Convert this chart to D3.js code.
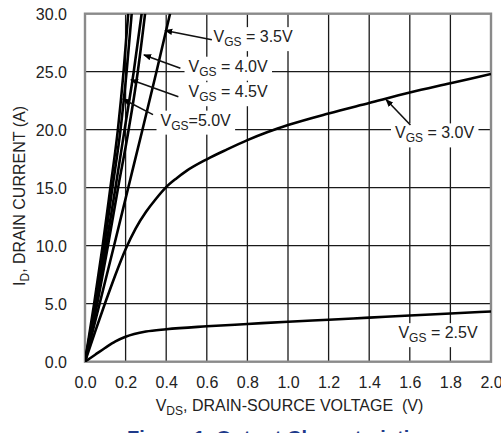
<!DOCTYPE html>
<html>
<head>
<meta charset="utf-8">
<script src="https://cdn.jsdelivr.net/npm/d3@7"></script>
<style>
  html, body { margin: 0; padding: 0; background: #fff; overflow: hidden; }
  svg { display: block; font-family: "Liberation Sans", Arial, sans-serif; }
</style>
</head>
<body>
<svg id="chart" width="501" height="433"></svg>
<script>
// ---- data ----
const xTicks = [0.0, 0.2, 0.4, 0.6, 0.8, 1.0, 1.2, 1.4, 1.6, 1.8, 2.0];
const yTicks = [0, 5, 10, 15, 20, 25, 30];

const vgs10 = [[0,0],[0.045,5],[0.087,10],[0.125,15],[0.162,20],[0.19,25],[0.213,30]];
const vgs50 = [[0,0],[0.05,5],[0.095,10],[0.135,15],[0.175,20],[0.205,25],[0.23,30]];
const vgs45 = [[0,0],[0.055,5],[0.104,10],[0.15,15],[0.195,20],[0.24,25],[0.279,30]];
const vgs40 = [[0,0],[0.06,5],[0.113,10],[0.163,15],[0.215,20],[0.26,25],[0.296,30]];
const vgs35 = [[0,0],[0.072,5],[0.143,10],[0.213,15],[0.283,20],[0.352,25],[0.419,30]];
const vgs30 = [[0,0],[0.05,2.6],[0.1,5.1],[0.15,7.5],[0.2,9.7],[0.25,11.5],[0.3,12.9],[0.35,14.05],[0.4,15.05],[0.45,15.8],[0.5,16.45],[0.6,17.45],[0.7,18.3],[0.8,19.1],[0.9,19.8],[1.0,20.4],[1.2,21.4],[1.4,22.3],[1.6,23.2],[1.8,24.0],[2.0,24.8]];
const vgs25 = [[0,0],[0.05,0.6],[0.1,1.2],[0.15,1.75],[0.2,2.15],[0.3,2.6],[0.4,2.8],[0.6,3.05],[0.8,3.25],[1.0,3.45],[1.2,3.62],[1.4,3.8],[1.6,3.98],[1.8,4.15],[2.0,4.33]];

const seriesList = [vgs10, vgs50, vgs45, vgs40, vgs35, vgs30, vgs25];

// label text, label anchor (data coords of text start/baseline), arrow start (data), arrow tip (data)
const labelNames = ["3.5V", "4.0V", "4.5V", "5.0V", "3.0V", "2.5V"];
const labelSep   = [" = ", " = ", " = ", "=", " = ", " = "];
const labelPos   = [[0.633,27.55],[0.510,25.0],[0.510,22.8],[0.372,20.35],[1.527,19.25],[1.544,2.03]];
const arrowFrom  = [[0.625,27.75],[0.470,25.3],[0.460,22.85],[0.335,21.3],[1.603,20.4],null];
const arrowTo    = [[0.394,28.55],[0.290,26.45],[0.226,24.3],[0.186,22.65],[1.483,22.6],null];

// ---- layout ----
const svg = d3.select("#chart");
const x = d3.scaleLinear().domain([0, 2]).range([85, 491]);
const y = d3.scaleLinear().domain([0, 30]).range([361.7, 13.7]);

const textColor = "#222";

// grid
const grid = svg.append("g");
grid.selectAll("line.v").data(xTicks.slice(1, -1)).join("line")
  .attr("x1", d => x(d)).attr("x2", d => x(d))
  .attr("y1", y(30)).attr("y2", y(0))
  .attr("stroke", "#1a1a1a").attr("stroke-width", 1.3);
grid.selectAll("line.h").data(yTicks.slice(1, -1)).join("line")
  .attr("x1", x(0)).attr("x2", x(2))
  .attr("y1", d => y(d)).attr("y2", d => y(d))
  .attr("stroke", "#1a1a1a").attr("stroke-width", 1.3);

// axes (labels only)
const fmt = d3.format(".1f");
const xAxis = svg.append("g").attr("transform", `translate(0,${y(0)})`)
  .call(d3.axisBottom(x).tickValues(xTicks).tickFormat(fmt).tickSize(0).tickPadding(15));
const yAxis = svg.append("g").attr("transform", `translate(${x(0)},0)`)
  .call(d3.axisLeft(y).tickValues(yTicks).tickFormat(fmt).tickSize(0).tickPadding(18));
[xAxis, yAxis].forEach(g => {
  g.select(".domain").remove();
  g.selectAll("text").attr("font-size", 16).attr("fill", textColor)
    .attr("font-family", "'Liberation Sans', Arial, sans-serif");
});
yAxis.selectAll("text").attr("dy", "0.36em");

// border
svg.append("rect")
  .attr("x", x(0)).attr("y", y(30))
  .attr("width", x(2) - x(0)).attr("height", y(0) - y(30))
  .attr("fill", "none").attr("stroke", "#8a8a8a").attr("stroke-width", 2.4);

// labels with white boxes
const labelLayer = svg.append("g");
labelNames.forEach((name, i) => {
  const g = labelLayer.append("g");
  const t = g.append("text")
    .attr("x", x(labelPos[i][0])).attr("y", y(labelPos[i][1]))
    .attr("font-size", 16).attr("fill", textColor);
  t.append("tspan").text("V");
  t.append("tspan").attr("font-size", 12).attr("dy", 4).text("GS");
  t.append("tspan").attr("dy", -4).text(labelSep[i] + name);
  const bb = t.node().getBBox();
  g.insert("rect", "text")
    .attr("x", bb.x - 4).attr("y", bb.y - 1)
    .attr("width", bb.width + 8).attr("height", bb.height + 3)
    .attr("fill", "#fff");
});

// curves
const line = d3.line().x(d => x(d[0])).y(d => y(d[1])).curve(d3.curveMonotoneX);
svg.append("clipPath").attr("id", "plotclip").append("rect")
  .attr("x", x(0)).attr("y", y(30)).attr("width", x(2) - x(0)).attr("height", y(0) - y(30));
svg.append("g").attr("clip-path", "url(#plotclip)")
  .selectAll("path").data(seriesList).join("path")
  .attr("d", line).attr("fill", "none")
  .attr("stroke", "#000").attr("stroke-width", 2.6)
  .attr("stroke-linejoin", "round");

// arrows
svg.append("defs").append("marker")
  .attr("id", "ah").attr("viewBox", "0 0 10 10").attr("refX", 9).attr("refY", 5)
  .attr("markerWidth", 5).attr("markerHeight", 5).attr("orient", "auto")
  .append("path").attr("d", "M0,1 L10,5 L0,9 Z").attr("fill", "#000");
arrowFrom.forEach((f, i) => {
  if (!f) return;
  svg.append("line")
    .attr("x1", x(f[0])).attr("y1", y(f[1]))
    .attr("x2", x(arrowTo[i][0])).attr("y2", y(arrowTo[i][1]))
    .attr("stroke", "#111").attr("stroke-width", 1.6)
    .attr("marker-end", "url(#ah)");
});

// axis titles
const xt = svg.append("text").attr("x", 289.5).attr("y", 411)
  .attr("text-anchor", "middle").attr("font-size", 16).attr("fill", textColor);
xt.append("tspan").text("V");
xt.append("tspan").attr("font-size", 12).attr("dy", 4).text("DS");
xt.append("tspan").attr("dy", -4).text(", DRAIN-SOURCE VOLTAGE\u00a0\u00a0(V)");

const yt = svg.append("text").attr("transform", "translate(25,196) rotate(-90)")
  .attr("text-anchor", "middle").attr("font-size", 16).attr("fill", textColor);
yt.append("tspan").text("I");
yt.append("tspan").attr("font-size", 12).attr("dy", 4).text("D");
yt.append("tspan").attr("dy", -4).text(", DRAIN CURRENT (A)");

// caption (cut off at bottom edge, as in the reference)
svg.append("text").attr("x", 127).attr("y", 445)
  .attr("font-size", 20).attr("font-weight", "bold").attr("fill", "#1f3a8a")
  .text("Figure 1. Output Characteristics");
</script>
</body>
</html>
